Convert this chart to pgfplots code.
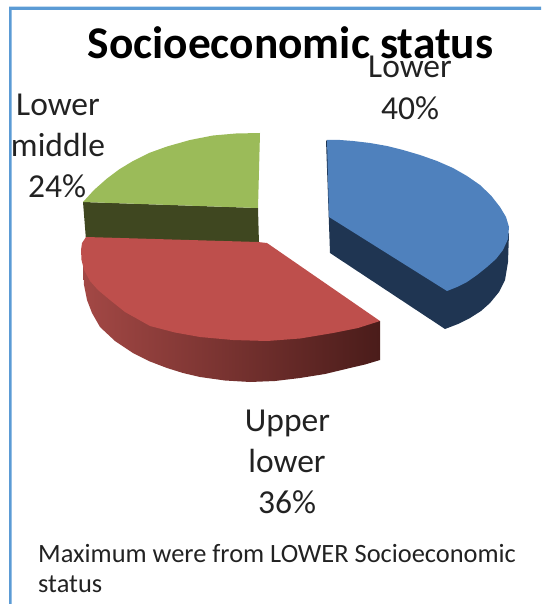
\documentclass[border=0pt]{standalone}
\usepackage{pgfplots}
\pgfplotsset{compat=1.18}
\usepackage{fontspec}
\setmainfont{Carlito}
\definecolor{frameblue}{HTML}{5B9BD5}
\definecolor{lowertop}{HTML}{4F81BD}
\definecolor{lowerside}{HTML}{1F3552}
\definecolor{uppertop}{HTML}{BE4F4C}
\definecolor{sideA}{HTML}{A34845}
\definecolor{sideB}{HTML}{6E2B29}
\definecolor{sideC}{HTML}{4A1C1A}
\definecolor{middletop}{HTML}{9BBB59}
\definecolor{middleside}{HTML}{3F4720}
\definecolor{ink}{HTML}{222222}
\begin{document}
\begin{tikzpicture}
\useasboundingbox (0,0) rectangle (541pt,604pt);
\begin{axis}[
  at={(0,0)}, anchor=south west,
  scale only axis, width=541pt, height=604pt,
  xmin=0, xmax=541, ymin=0, ymax=604, y dir=reverse,
  axis lines=none, clip=false,
  every axis plot/.append style={draw=none, sharp plot},
]
% Frame on the left and top, one L-shaped filled outline
\addplot[fill=frameblue] coordinates {(9,604) (9,6.6) (541,6.6) (541,9.8) (11.6,9.8) (11.6,604)} -- cycle;
% Slice sides, drawn first
\addplot[fill=middleside] coordinates {(83,202) (86,240) (259,244) (258,208)} -- cycle;
\addplot[left color=sideA, middle color=sideB, right color=sideC] coordinates {
  (83,265) (84,285) (87,300) (92,313) (100,327) (115,341) (133,353) (150,361.5) (167,368) (183,373) (200,377)
  (225,380.5) (250,382) (275,381) (300,378) (325,374) (350,368) (365,364.5) (380,360)
  (380,321) (300,330) (150,320)} -- cycle;
\addplot[fill=lowerside] coordinates {
  (326,140) (330,253) (445,329) (458,324) (470,318) (481,311) (490,303) (499,292) (505,280) (508,262) (509,233) (447,280)} -- cycle;
% Slice tops
\addplot[fill=middletop] coordinates {
  (260,133) (236,133.5) (213,135.5) (190,140) (167,146.5) (149,153) (133,161) (119,169.5) (107,178.5) (94,190) (83,202) (258,208)} -- cycle;
\addplot[fill=uppertop] coordinates {
  (86,237) (258,242) (267,243) (380,321) (358,328) (333,333) (300,338.5) (267,341) (233,340) (200,337) (175,332.5) (150,326)
  (125,312) (110,300) (98,290) (90,281) (84,270) (81.5,260) (81,250) (82,243)} -- cycle;
\addplot[fill=lowertop] coordinates {
  (327,140) (340,140) (353,141) (370,143) (387,146) (403,150) (420,155) (437,161) (453,168) (467,176) (480,185)
  (491,195.5) (500,207) (506,217) (509,227) (508,239) (503,250) (496,259) (487,267) (477,275) (467,282) (457,287) (447,291) (329,217)} -- cycle;
% Title, slice labels and the note below
\node[anchor=base, text=black, font=\fontsize{45.4}{45.4}\selectfont\bfseries] at (axis cs:290.5,59) {Socioeconomic status};
\begin{scope}[every node/.style={anchor=base, text=ink, font=\fontsize{33.5}{33.5}\selectfont}]
\node at (axis cs:410,78) {Lower};
\node at (axis cs:410,120) {40\%};
\node at (axis cs:58,116) {Lower};
\node at (axis cs:58,157) {middle};
\node at (axis cs:57,197) {24\%};
\node at (axis cs:287.5,431) {Upper};
\node at (axis cs:287,472) {lower};
\node at (axis cs:287,513) {36\%};
\end{scope}
\begin{scope}[every node/.style={anchor=base west, inner sep=0pt, text=ink, font=\fontsize{26.4}{26.4}\selectfont}]
\node at (axis cs:38,562) {Maximum were from LOWER Socioeconomic};
\node at (axis cs:38,592) {status};
\end{scope}
\end{axis}
\end{tikzpicture}
\end{document}
